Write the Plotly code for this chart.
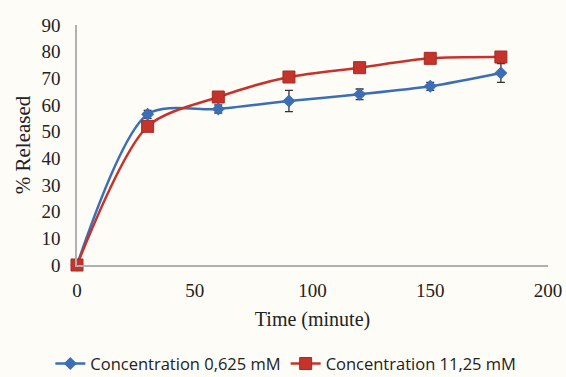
import plotly.graph_objects as go

time_min = [0, 30, 60, 90, 120, 150, 180]
conc_low = [0, 56.5, 58.5, 61.5, 64, 67, 72]
conc_low_err = [0, 1.5, 1.5, 4, 2, 1.5, 3.5]
conc_high = [0, 52, 63, 70.5, 74, 77.5, 78]
conc_high_err = [0, 1, 1, 1.5, 1, 1, 1.5]
names = ["Concentration 0,625 mM", "Concentration 11,25 mM"]

blue = "#3b6eb4"
red = "#c4342c"

fig = go.Figure()
fig.add_trace(go.Scatter(
    x=time_min, y=conc_low, name=names[0], mode="lines+markers",
    line=dict(color=blue, width=2.5, shape="spline", smoothing=0.8),
    marker=dict(symbol="diamond", size=10, color=blue),
    error_y=dict(type="data", array=conc_low_err, color="#333", thickness=1.3, width=4),
    cliponaxis=False,
))
fig.add_trace(go.Scatter(
    x=time_min, y=conc_high, name=names[1], mode="lines+markers",
    line=dict(color=red, width=2.5, shape="spline", smoothing=0.8),
    marker=dict(symbol="square", size=12, color=red, line=dict(color="#a52a22", width=1)),
    error_y=dict(type="data", array=conc_high_err, color="#333", thickness=1.3, width=4),
    cliponaxis=False,
))

serif = "Liberation Serif"
fig.update_layout(
    width=566, height=377,
    margin=dict(l=77, r=18, t=25, b=112),
    paper_bgcolor="#fdfcf6", plot_bgcolor="#fdfcf6",
    showlegend=True,
    legend=dict(orientation="h", xref="container", yref="container",
                x=0.505, xanchor="center", y=0.035, yanchor="middle",
                font=dict(family="Open Sans", size=16.5, color="#222"),
                bgcolor="rgba(0,0,0,0)", itemwidth=30, tracegroupgap=0),
    xaxis=dict(range=[0, 200], tickvals=[0, 50, 100, 150, 200], automargin=False,
               showgrid=False, zeroline=False, showline=True, linecolor="#b0b0b0", linewidth=1.5,
               ticks="", ticklabelstandoff=7, tickfont=dict(family=serif, size=19, color="#222"),
               title=dict(text="Time (minute)", font=dict(family=serif, size=20, color="#222"), standoff=12)),
    yaxis=dict(range=[0, 90], tickvals=list(range(0, 91, 10)), automargin=False,
               showgrid=False, zeroline=False, showline=True, linecolor="#b0b0b0", linewidth=1.5,
               ticks="", ticklabelstandoff=11, tickfont=dict(family=serif, size=19, color="#222"),
               title=dict(text="% Released", font=dict(family=serif, size=21, color="#222"), standoff=5)),
)
fig.write_html("out.html")
